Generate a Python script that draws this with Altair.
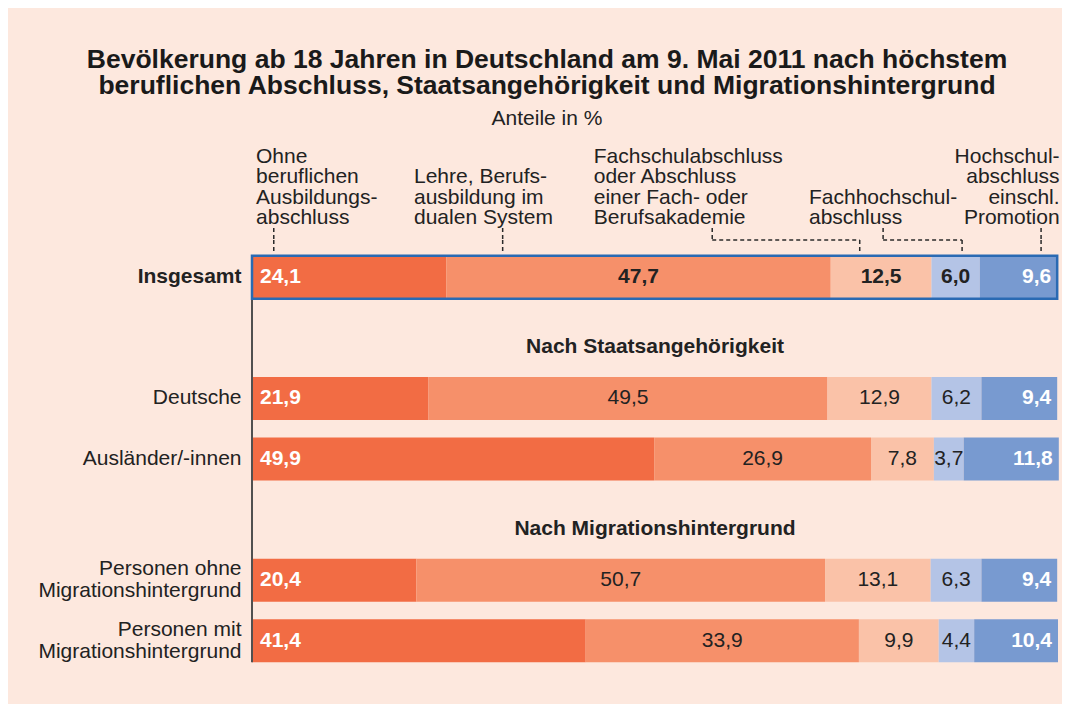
import altair as alt
import pandas as pd

# ---------------- data ----------------
title_lines = [
    "Bevölkerung ab 18 Jahren in Deutschland am 9. Mai 2011 nach höchstem",
    "beruflichen Abschluss, Staatsangehörigkeit und Migrationshintergrund",
]
subtitle = "Anteile in %"

rows = [
    "Insgesamt",
    "Deutsche",
    "Ausländer/-innen",
    "Personen ohne\nMigrationshintergrund",
    "Personen mit\nMigrationshintergrund",
]
sections = ["Nach Staatsangehörigkeit", "Nach Migrationshintergrund"]
row_order = [rows[0], sections[0], rows[1], rows[2], sections[1], rows[3], rows[4]]

categories = [
    "Ohne beruflichen Ausbildungsabschluss",
    "Lehre, Berufsausbildung im dualen System",
    "Fachschulabschluss oder Abschluss einer Fach- oder Berufsakademie",
    "Fachhochschulabschluss",
    "Hochschulabschluss einschl. Promotion",
]
category_labels = [
    "Ohne\nberuflichen\nAusbildungs-\nabschluss",
    "Lehre, Berufs-\nausbildung im\ndualen System",
    "Fachschulabschluss\noder Abschluss\neiner Fach- oder\nBerufsakademie",
    "Fachhochschul-\nabschluss",
    "Hochschul-\nabschluss\neinschl.\nPromotion",
]
colors = ["#f26c44", "#f6906a", "#fac2a8", "#b4c4e6", "#789ad0"]

insgesamt = [24.1, 47.7, 12.5, 6.0, 9.6]
deutsche = [21.9, 49.5, 12.9, 6.2, 9.4]
auslaender = [49.9, 26.9, 7.8, 3.7, 11.8]
ohne_mh = [20.4, 50.7, 13.1, 6.3, 9.4]
mit_mh = [41.4, 33.9, 9.9, 4.4, 10.4]

# category label anchors and leader lines, in % of the bar scale
label_x = [0.5, 20.1, 42.4, 69.1, 100.2]
label_align = ["left", "left", "left", "left", "right"]
leader_top_x = [2.7, 31.1, 57.1, 78.3, 97.9]
leader_bar_x = [2.7, 31.1, 75.4, 88.1, 97.9]

FONT = "Liberation Sans"
TXT = "#222222"
FS = 21
LH = 20.5

# ---------------- tables ----------------
series = [insgesamt, deutsche, auslaender, ohne_mh, mit_mh]
recs = []
for r, vals in zip(rows, series):
    s = 0.0
    for i, (c, v) in enumerate(zip(categories, vals)):
        recs.append(dict(row=r, cat=c, idx=i, value=v, start=s, end=s + v,
                         mid=s + v / 2, label=f"{v:.1f}".replace(".", ",")))
        s += v
df = pd.DataFrame(recs)

frame_df = pd.DataFrame({"row": [rows[0]], "x0": [0.0], "x1": [sum(insgesamt)]})
axis_df = pd.DataFrame({"top": [rows[0]], "bottom": [rows[-1]]})
section_df = pd.DataFrame({"row": sections})
cat_df = pd.DataFrame({
    "label": category_labels,
    "nlines": [len(t.split("\n")) for t in category_labels],
    "lx": label_x,
    "align": label_align,
    "tx": leader_top_x,
    "bx": leader_bar_x,
})

# ---------------- encodings ----------------
x_scale = alt.Scale(domain=[0, 100], nice=False, zero=False)
hide = " || ".join(f"datum.value == '{s}'" for s in sections)
y_enc = alt.Y(
    "row:N",
    title=None,
    scale=alt.Scale(domain=row_order, paddingInner=0.29, paddingOuter=0.145),
    axis=alt.Axis(
        labelExpr=f"({hide}) ? '' : split(datum.value, '\\n')",
        labelFontWeight=alt.condition("datum.value == 'Insgesamt'",
                                      alt.value("bold"), alt.value("normal")),
        labelOffset=alt.condition("indexof(datum.value, '\\n') >= 0",
                                  alt.value(-11), alt.value(0)),
        ticks=False,
        grid=False,
        domain=False,
        labelFontSize=FS,
        labelFont=FONT,
        labelColor=TXT,
        labelPadding=11,
        labelLineHeight=22,
        labelLimit=400,
    ),
)

base = alt.Chart(df)

bars = base.mark_rect().encode(
    x=alt.X("start:Q", scale=x_scale, axis=None),
    x2="end:Q",
    y=y_enc,
    color=alt.Color("cat:N", scale=alt.Scale(domain=categories, range=colors), legend=None),
)

axis_line = alt.Chart(axis_df).mark_rule(
    color="#505050", strokeWidth=2, yOffset=-21.5, y2Offset=21.5
).encode(x=alt.datum(0), y="top:N", y2="bottom:N")

frame = alt.Chart(frame_df).mark_rect(fillOpacity=0, stroke="#2a6ab3", strokeWidth=2.5).encode(
    x="x0:Q", x2="x1:Q", y=alt.Y("row:N")
)

first_txt = base.transform_filter("datum.idx == 0").mark_text(
    align="left", dx=8, color="white", fontWeight="bold", fontSize=FS, font=FONT
).encode(x="start:Q", y="row:N", text="label:N")

mid_txt = base.transform_filter("datum.idx >= 1 && datum.idx <= 3").mark_text(
    align="center", color=TXT, fontSize=FS, font=FONT,
    fontWeight=alt.expr("datum.row == 'Insgesamt' ? 'bold' : 'normal'"),
).encode(x="mid:Q", y="row:N", text="label:N")

last_txt = base.transform_filter("datum.idx == 4").mark_text(
    align="right", dx=-6, color="white", fontWeight="bold", fontSize=FS, font=FONT
).encode(x="end:Q", y="row:N", text="label:N")

section_txt = alt.Chart(section_df).mark_text(
    fontWeight="bold", fontSize=FS, font=FONT, color=TXT, dy=9
).encode(x=alt.datum(50), y="row:N", text="row:N")

cat_base = alt.Chart(cat_df)
cat_dy = alt.expr(f"-(datum.nlines - 1) * {LH}")
cat_left = cat_base.transform_filter("datum.align == 'left'").mark_text(
    align="left", baseline="alphabetic", lineBreak="\n", lineHeight=LH,
    fontSize=FS, font=FONT, color=TXT, dy=cat_dy
).encode(x="lx:Q", y=alt.value(-23), text="label:N")
cat_right = cat_base.transform_filter("datum.align == 'right'").mark_text(
    align="right", baseline="alphabetic", lineBreak="\n", lineHeight=LH,
    fontSize=FS, font=FONT, color=TXT, dy=cat_dy
).encode(x="lx:Q", y=alt.value(-23), text="label:N")

dash = dict(color="#2a2a2a", strokeWidth=1.5, strokeDash=[4, 3])
lead_top = cat_base.mark_rule(**dash).encode(x="tx:Q", y=alt.value(-19), y2=alt.value(-7))
lead_h = cat_base.transform_filter("datum.tx != datum.bx").mark_rule(**dash).encode(
    x="tx:Q", x2="bx:Q", y=alt.value(-7)
)
lead_bot = cat_base.mark_rule(**dash).encode(x="bx:Q", y=alt.value(-7), y2=alt.value(7))

chart = alt.layer(
    bars, axis_line, frame, first_txt, mid_txt, last_txt, section_txt,
    cat_left, cat_right, lead_top, lead_h, lead_bot,
).properties(
    width=806,
    height=424,
    autosize=alt.AutoSizeParams(type="none"),
    padding={"left": 244, "top": 239, "right": 4, "bottom": 33},
    title=alt.TitleParams(
        text=title_lines,
        subtitle=subtitle,
        font=FONT,
        fontSize=26.5,
        fontWeight="bold",
        lineHeight=26,
        color="#1a1a1a",
        subtitleFont=FONT,
        subtitleFontSize=FS,
        subtitleColor=TXT,
        subtitlePadding=8,
        anchor="middle",
        frame="group",
        dx=-108,
        offset=17,
    ),
).configure(
    background="#fde8de",
    font=FONT,
).configure_view(strokeWidth=0)

chart.save("out.html", embed_options={"renderer": "svg", "actions": False})
